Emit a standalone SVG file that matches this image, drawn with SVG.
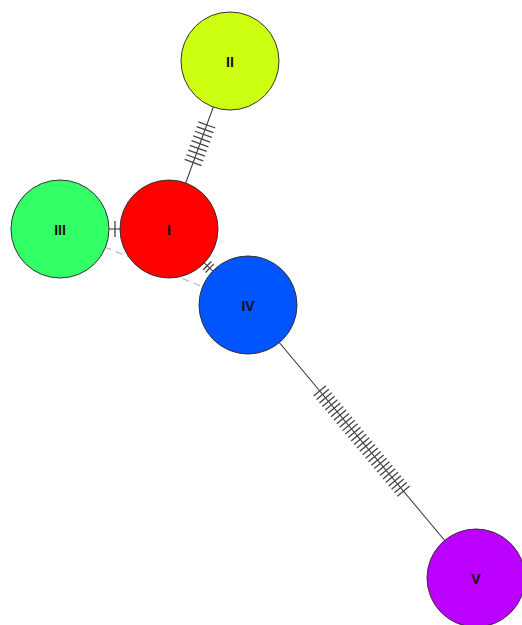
<svg xmlns="http://www.w3.org/2000/svg" width="522" height="625" viewBox="0 0 522 625">
<style>
.edge{stroke:#333;stroke-width:1;fill:none}
.tick{stroke:#444;stroke-width:1.3}
.dash{stroke:#bbb;stroke-width:1.2;stroke-dasharray:7,5;fill:none}
.node circle{stroke:#333;stroke-width:1}
.node text{font-family:"Liberation Sans",Arial,sans-serif;font-weight:bold;font-size:14px;fill:#111;text-anchor:middle;dominant-baseline:central}
</style>
<rect width="522" height="625" fill="#fff"/>
<g id="connectors">
  <line class="dash" x1="60" y1="229" x2="248" y2="305"/>
  <g id="e-II-I" transform="translate(230,61) rotate(109.96)">
    <line class="edge" x1="0" y1="0" x2="178.7" y2="0"/>
    <path class="tick" d="M68,-9V9M73,-9V9M78,-9V9M83,-9V9M88,-9V9M93,-9V9M98,-9V9M103,-9V9M108,-9V9"/>
  </g>
  <g id="e-III-I">
    <line class="edge" x1="60" y1="229" x2="169" y2="229"/>
    <path class="tick" d="M115,221V237"/>
  </g>
  <g id="e-I-IV" transform="translate(169,229) rotate(43.9)">
    <line class="edge" x1="0" y1="0" x2="109.6" y2="0"/>
    <path class="tick" d="M53,-6V6M56.5,-6V6"/>
  </g>
  <g id="e-IV-V" transform="translate(248,305) rotate(50.13)">
    <line class="edge" x1="0" y1="0" x2="355.7" y2="0"/>
    <path class="tick" d="M112,-8V8M116.5,-8V8M121,-8V8M125.5,-8V8M130,-8V8M134.5,-8V8M139,-8V8M143.5,-8V8M148,-8V8M152.5,-8V8M157,-8V8M161.5,-8V8M166,-8V8M170.5,-8V8M175,-8V8M179.5,-8V8M184,-8V8M188.5,-8V8M193,-8V8M197.5,-8V8M202,-8V8M206.5,-8V8M211,-8V8M215.5,-8V8M220,-8V8M224.5,-8V8M229,-8V8M233.5,-8V8M238,-8V8M242.5,-8V8"/>
  </g>
</g>
<g id="node-II" class="node"><circle cx="230" cy="61" r="49" fill="#ccff11"/><text x="230" y="62">II</text></g>
<g id="node-III" class="node"><circle cx="60" cy="229" r="49" fill="#33ff66"/><text x="60" y="230">III</text></g>
<g id="node-I" class="node"><circle cx="169" cy="229" r="49" fill="#ff0000"/><text x="169" y="230">I</text></g>
<g id="node-IV" class="node"><circle cx="248" cy="305" r="49" fill="#0055ff"/><text x="248" y="306">IV</text></g>
<g id="node-V" class="node"><circle cx="476" cy="578" r="49" fill="#bb00ff"/><text x="476" y="579">V</text></g>
</svg>
